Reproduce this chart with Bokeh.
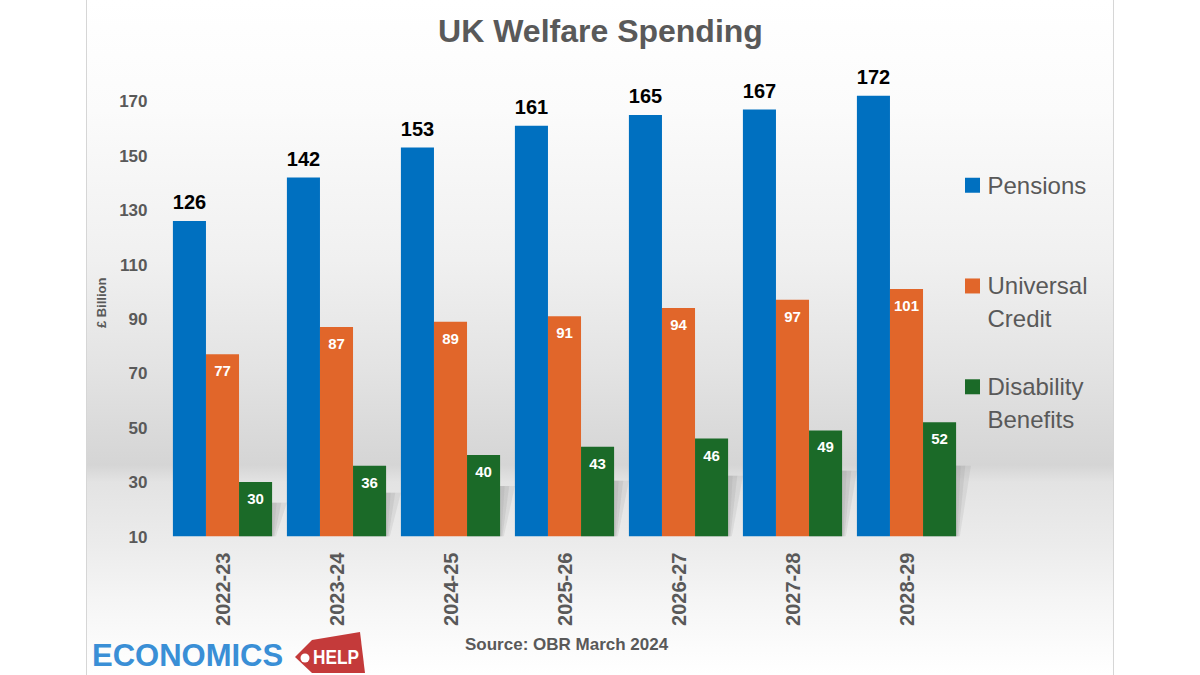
import math
import numpy as np
from bokeh.plotting import figure
from bokeh.layouts import column
from bokeh.models import Range1d, FixedTicker, Div
from bokeh.core.properties import value
from bokeh.embed import file_html
from bokeh.resources import INLINE

# ---- data (£ billion) ----
years = ["2022-23", "2023-24", "2024-25", "2025-26", "2026-27", "2027-28", "2028-29"]
pensions = [126, 142, 153, 161, 165, 167, 172]
universal_credit = [77, 87, 89, 91, 94, 97, 101]
disability_benefits = [30, 36, 40, 43, 46, 49, 52]
y_ticks = [10, 30, 50, 70, 90, 110, 130, 150, 170]
series_names = ["Pensions", "Universal\nCredit", "Disability\nBenefits"]

# ---- layout constants ----
W = 1200
H_MAIN, H_FOOT = 628, 47
LEFT = 165                       # left border (y axis panel)
FRAME_BOTTOM = 537               # pixel row of the value-axis baseline
GROUP_PX = 114                   # width of one year group in pixels
PX_PER_UNIT = 2.725              # vertical pixels per £bn
Y0 = 10
BAR_W = 0.29

BLUE, ORANGE, GREEN = "#0070c0", "#e1662a", "#1b6a28"
GREY_TXT = "#595959"
FONT = value("Liberation Sans")


def dx(px):
    """horizontal canvas pixel -> x data coordinate"""
    return (px - LEFT) / GROUP_PX - 0.5


def dy(py):
    """vertical canvas pixel (from top) -> y data coordinate"""
    return Y0 + (FRAME_BOTTOM - py) / PX_PER_UNIT


p = figure(
    width=W, height=H_MAIN,
    x_range=Range1d(-0.5, dx(W)), y_range=Range1d(Y0, dy(0)),
    min_border_left=LEFT, min_border_right=0, min_border_top=0,
    min_border_bottom=H_MAIN - FRAME_BOTTOM,
    output_backend="svg", toolbar_location=None,
)
p.background_fill_color = None
p.border_fill_color = None
p.outline_line_color = None
p.grid.visible = False

xs = np.arange(len(years))

# ---- soft cast shadows to the right of the green bars ----
for spread, alpha in [(0.13, 0.14), (0.08, 0.16), (0.04, 0.14)]:
    sh_xs, sh_ys = [], []
    for x, v in zip(xs + BAR_W, disability_benefits):
        r = x + BAR_W / 2
        h = v - Y0
        sh_xs.append([r - BAR_W, r + spread * 0.25, r + spread, r - BAR_W + spread])
        sh_ys.append([Y0, Y0, Y0 + 0.62 * h, Y0 + 0.62 * h])
    p.patches(xs=sh_xs, ys=sh_ys, fill_color="#8a8a8a", fill_alpha=alpha, line_color=None)

# ---- bars ----
p.vbar(x=xs - BAR_W, top=pensions, bottom=Y0, width=BAR_W, fill_color=BLUE, line_color=None)
p.vbar(x=xs, top=universal_credit, bottom=Y0, width=BAR_W, fill_color=ORANGE, line_color=None)
p.vbar(x=xs + BAR_W, top=disability_benefits, bottom=Y0, width=BAR_W, fill_color=GREEN, line_color=None)

# ---- value labels ----
p.text(x=xs - BAR_W, y=[v + 19 / PX_PER_UNIT for v in pensions], text=[str(v) for v in pensions],
       text_align="center", text_baseline="middle", text_font=FONT,
       text_font_size="20px", text_font_style="bold", text_color="black")
p.text(x=xs, y=[v - 17 / PX_PER_UNIT for v in universal_credit], text=[str(v) for v in universal_credit],
       text_align="center", text_baseline="middle", text_font=FONT,
       text_font_size="15px", text_font_style="bold", text_color="white")
p.text(x=xs + BAR_W, y=[v - 17 / PX_PER_UNIT for v in disability_benefits],
       text=[str(v) for v in disability_benefits],
       text_align="center", text_baseline="middle", text_font=FONT,
       text_font_size="15px", text_font_style="bold", text_color="white")

# ---- axes ----
yax = p.yaxis[0]
yax.ticker = FixedTicker(ticks=y_ticks)
yax.axis_line_color = None
yax.major_tick_line_color = None
yax.minor_tick_line_color = None
yax.major_tick_out = 0
yax.major_label_standoff = 18
yax.major_label_text_font = "Liberation Sans"
yax.major_label_text_font_size = "17px"
yax.major_label_text_font_style = "bold"
yax.major_label_text_color = GREY_TXT
# non-breaking padding keeps the rotated caption a little below the frame centre
yax.axis_label = "£ Billion" + "\u00a0" * 19
yax.axis_label_standoff = 7
yax.axis_label_text_font = "Liberation Sans"
yax.axis_label_text_font_size = "13px"
yax.axis_label_text_font_style = "bold"
yax.axis_label_text_color = GREY_TXT

xax = p.xaxis[0]
xax.ticker = FixedTicker(ticks=list(xs))
xax.major_label_overrides = {int(i): y for i, y in zip(xs, years)}
xax.major_label_orientation = math.pi / 2
xax.axis_line_color = None
xax.major_tick_line_color = None
xax.minor_tick_line_color = None
xax.major_tick_out = 0
xax.major_label_standoff = 16
xax.major_label_text_font = "Liberation Sans"
xax.major_label_text_font_size = "20px"
xax.major_label_text_font_style = "bold"
xax.major_label_text_color = GREY_TXT

# ---- title ----
p.text(x=[dx(600)], y=[dy(31)], text=["UK Welfare Spending"], text_align="center",
       text_baseline="middle", text_font=FONT, text_font_size="32px",
       text_font_style="bold", text_color=GREY_TXT)

# ---- legend ----
legend_rows = [dy(185), dy(286), dy(387)]
p.scatter(x=[dx(972)] * 3, y=legend_rows, marker="square", size=15,
          fill_color=[BLUE, ORANGE, GREEN], line_color=None)
leg_text, leg_y = [], []
for name, row in zip(series_names, legend_rows):
    for k, line in enumerate(name.split("\n")):
        leg_text.append(line)
        leg_y.append(row - k * 33 / PX_PER_UNIT)
p.text(x=[dx(987)] * len(leg_text), y=leg_y, text=leg_text, text_align="left",
       text_baseline="middle", text_font=FONT, text_font_size="24px", text_color=GREY_TXT)

# ---- footer strip: source note and Economics Help mark ----
footer_html = f"""
<div style="position:relative;width:{W}px;height:{H_FOOT}px;margin:0;padding:0;
            font-family:'Liberation Sans',sans-serif;font-weight:bold;">
  <span style="position:absolute;left:465px;top:8px;font-size:17px;line-height:17px;
               color:{GREY_TXT};white-space:nowrap;">Source: OBR March 2024</span>
  <span style="position:absolute;left:92px;top:12px;font-size:31px;line-height:31px;
               color:#3a8fd6;white-space:nowrap;">ECONOMICS</span>
  <svg style="position:absolute;left:0;top:0;" width="{W}" height="{H_FOOT}">
    <polygon points="295,29 312,12 360,4 365,45 312,45" fill="#c43a3a"/>
    <circle cx="305" cy="30" r="4.5" fill="#ffffff"/>
    <text x="313" y="36" fill="#ffffff" font-family="Liberation Sans" font-weight="bold"
          font-size="20" textLength="46" lengthAdjust="spacingAndGlyphs">HELP</text>
  </svg>
</div>
"""
footer = Div(text=footer_html, width=W, height=H_FOOT, margin=0)

layout = column(p, footer, spacing=0)
# soft grey band behind the chart, framed by thin vertical rules
layout.styles = {
    "background": (
        "linear-gradient(to right, transparent 86px, #d6d6d6 86px, #d6d6d6 87px, transparent 87px, "
        "transparent 1113px, #d6d6d6 1113px, #d6d6d6 1114px, transparent 1114px), "
        "linear-gradient(to bottom, #ffffff 0px, #fbfbfb 110px, #f0f0f0 260px, #e3e3e3 370px, "
        "#dadada 430px, #d5d5d5 465px, #e3e3e3 482px, #ebebeb 540px, #f5f5f5 600px, #fcfcfc 650px, #ffffff 675px) "
        "87px 0px / 1026px 675px no-repeat, #ffffff"
    )
}

open("out.html", "w").write(file_html(layout, INLINE))
